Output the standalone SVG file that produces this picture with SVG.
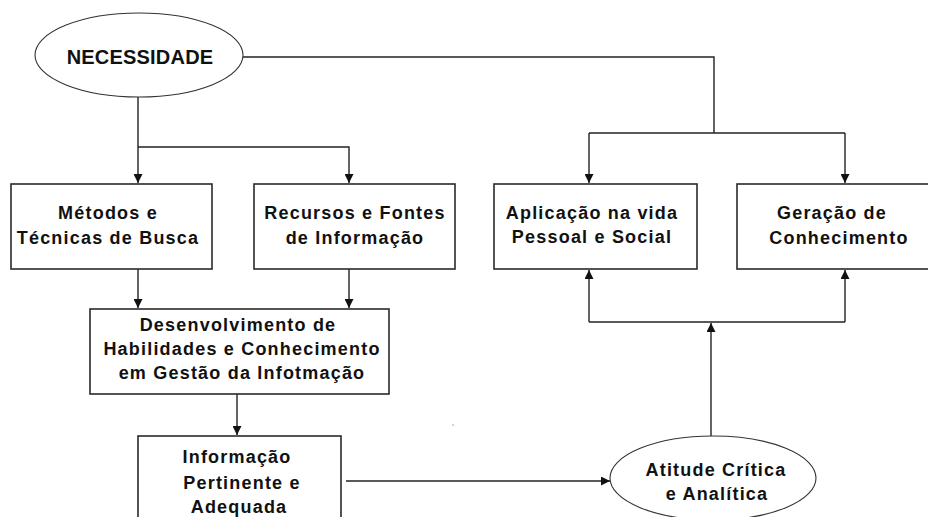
<svg xmlns="http://www.w3.org/2000/svg" width="928" height="517" viewBox="0 0 928 517">
<style>
.box{fill:#fff;stroke:#2a2a2a;stroke-width:1.6}
.ell{fill:#fff;stroke:#333;stroke-width:1.1}
.ln{fill:none;stroke:#222;stroke-width:1.4}
text{font-family:"Liberation Sans",Arial,sans-serif;font-weight:bold;font-size:18px;fill:#111;text-anchor:middle;letter-spacing:1.2px}
.big{font-size:20px;letter-spacing:0.2px}
</style>
<defs>
<marker id="arr" viewBox="0 0 10 10" refX="10" refY="5" markerUnits="userSpaceOnUse" markerWidth="9" markerHeight="9" orient="auto">
<path d="M0,0 L10,5 L0,10 z" fill="#111"/>
</marker>
</defs>
<rect width="928" height="517" fill="#fff"/>
<g id="connectors">
<path class="ln" d="M243,57 H714 V133"/>
<path class="ln" d="M589,133 H845"/>
<path class="ln" d="M589,133 V183" marker-end="url(#arr)"/>
<path class="ln" d="M845,133 V183" marker-end="url(#arr)"/>
<path class="ln" d="M138,97 V183" marker-end="url(#arr)"/>
<path class="ln" d="M138,147 H349 V183" marker-end="url(#arr)"/>
<path class="ln" d="M138,269 V308" marker-end="url(#arr)"/>
<path class="ln" d="M349,269 V308" marker-end="url(#arr)"/>
<path class="ln" d="M237,394 V435" marker-end="url(#arr)"/>
<path class="ln" d="M346,481 H610" marker-end="url(#arr)"/>
<path class="ln" d="M711,436 V323" marker-end="url(#arr)"/>
<path class="ln" d="M589,322 H845"/>
<path class="ln" d="M589,322 V270" marker-end="url(#arr)"/>
<path class="ln" d="M845,322 V270" marker-end="url(#arr)"/>
</g>
<g id="necessidade">
<ellipse class="ell" cx="139" cy="55" rx="104" ry="42"/>
<text class="big" x="140" y="64">NECESSIDADE</text>
</g>
<g id="metodos">
<rect class="box" x="11" y="184" width="201" height="85"/>
<text x="108" y="219">Métodos e</text>
<text x="108" y="244">Técnicas de Busca</text>
</g>
<g id="recursos">
<rect class="box" x="254" y="184" width="201" height="85"/>
<text x="355" y="219">Recursos e Fontes</text>
<text x="355" y="244">de Informação</text>
</g>
<g id="aplicacao">
<rect class="box" x="494" y="184" width="203" height="85"/>
<text x="592" y="219">Aplicação na vida</text>
<text x="592" y="243">Pessoal e Social</text>
</g>
<g id="geracao">
<rect class="box" x="737" y="184" width="203" height="85"/>
<text x="832" y="219">Geração de</text>
<text x="839" y="244">Conhecimento</text>
</g>
<g id="desenvolvimento">
<rect class="box" x="90" y="309" width="299" height="85"/>
<text x="238" y="331">Desenvolvimento de</text>
<text x="242" y="355">Habilidades e Conhecimento</text>
<text x="242" y="379">em Gestão da Infotmação</text>
</g>
<g id="informacao">
<rect class="box" x="138" y="436" width="203" height="100"/>
<text x="237" y="463">Informação</text>
<text x="242" y="489">Pertinente e</text>
<text x="239" y="513">Adequada</text>
</g>
<g id="atitude">
<ellipse class="ell" cx="713" cy="478" rx="103" ry="42"/>
<text x="716" y="476">Atitude Crítica</text>
<text x="717" y="500">e Analítica</text>
</g>
<rect x="452.5" y="424.5" width="1.2" height="1.2" fill="#888"/>
</svg>
